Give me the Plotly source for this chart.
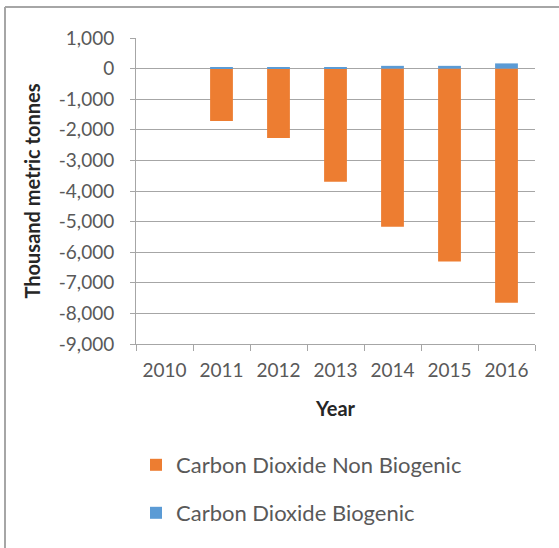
import plotly.graph_objects as go

years = ["2010", "2011", "2012", "2013", "2014", "2015", "2016"]
non_biogenic = [0, -1715, -2270, -3695, -5170, -6300, -7650]
biogenic = [0, 40, 40, 35, 90, 90, 170]
y_ticks = list(range(-9000, 1001, 1000))
y_tick_text = [f"{v:,}" for v in y_ticks]

W, H = 559, 548
L, R, T, B = 136, 24, 38, 204
pw, ph = W - L - R, H - T - B

def px_x(x):
    return (x - L) / pw

def px_y(y):
    return (H - B - y) / ph

font = "Lato, Open Sans, sans-serif"
grey = "#595959"
tick_size = 19
legend_size = 22
title_size = 20

fig = go.Figure()
fig.add_trace(go.Bar(x=years, y=non_biogenic, name="Carbon Dioxide Non Biogenic",
                     marker=dict(color="#ED7D31", line=dict(width=0)), width=0.4,
                     legend="legend"))
fig.add_trace(go.Bar(x=years, y=biogenic, name="Carbon Dioxide Biogenic",
                     marker=dict(color="#5B9BD5", line=dict(width=0)), width=0.4,
                     legend="legend2"))

fig.update_layout(
    width=W, height=H,
    margin=dict(l=L, r=R, t=T, b=B, pad=0),
    barmode="relative",
    plot_bgcolor="white", paper_bgcolor="white",
    font=dict(family=font, size=tick_size, color=grey),
    legend=dict(x=px_x(136), y=px_y(465), xanchor="left", yanchor="middle",
                font=dict(size=legend_size, color=grey), bgcolor="rgba(0,0,0,0)",
                itemwidth=30),
    legend2=dict(x=px_x(136), y=px_y(513), xanchor="left", yanchor="middle",
                 font=dict(size=legend_size, color=grey), bgcolor="rgba(0,0,0,0)",
                 itemwidth=30),
    xaxis=dict(
        type="category", tickson="boundaries", ticks="outside", ticklen=6,
        tickcolor="#A6A6A6", showline=True, linecolor="#A6A6A6", linewidth=1,
        showgrid=False,
        tickfont=dict(size=tick_size, color=grey, family=font),
        ticklabelstandoff=9,
        title=dict(text="<b>Year</b>", font=dict(size=title_size, color="#262626", family=font), standoff=22),
    ),
    yaxis=dict(
        range=[-9000, 1000], tickvals=y_ticks, ticktext=y_tick_text,
        ticks="outside", ticklen=5, tickcolor="#A6A6A6",
        showline=True, linecolor="#A6A6A6", linewidth=1,
        showgrid=True, gridcolor="#A6A6A6", gridwidth=1,
        zeroline=True, zerolinecolor="#A6A6A6", zerolinewidth=1,
        tickfont=dict(size=tick_size, color=grey, family=font),
        ticklabelstandoff=12,
        title=dict(text="<b>Thousand metric tonnes</b>", font=dict(size=title_size, color="#262626", family=font), standoff=12),
    ),
    showlegend=True,
)

# chart-area border (top and left edges visible)
fig.add_shape(type="line", xref="paper", yref="paper",
              x0=px_x(5), x1=px_x(W + 5), y0=px_y(7), y1=px_y(7),
              line=dict(color="#A6A6A6", width=2))
fig.add_shape(type="line", xref="paper", yref="paper",
              x0=px_x(5), x1=px_x(5), y0=px_y(7), y1=px_y(H + 5),
              line=dict(color="#A6A6A6", width=2))

fig.write_html("out.html")
